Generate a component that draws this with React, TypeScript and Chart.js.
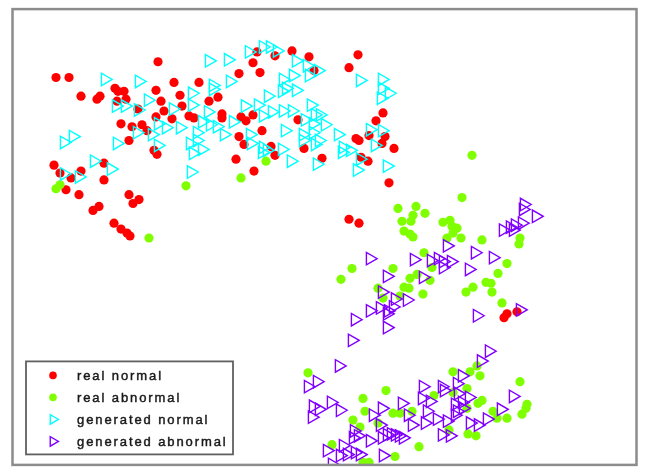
import React, { useEffect, useRef } from "react";
import { Chart, registerables } from "chart.js";

Chart.register(...registerables);

const seriesNames = ["real normal", "real abnormal", "generated normal", "generated abnormal"];

const realNormal: [number, number][] = [
  [158, 58], [56, 74], [69, 74], [81, 93], [97, 96], [100, 93], [115, 85], [118, 88], [124, 88], [126, 96],
  [117, 98], [138, 106], [156, 87], [161, 98], [164, 108], [156, 114], [174, 79], [180, 92], [182, 103], [172, 116],
  [189, 113], [194, 115], [199, 79], [209, 98], [218, 94], [222, 111], [222, 115], [121, 121], [132, 124], [142, 122],
  [147, 128], [129, 138], [154, 148], [157, 152], [54, 163], [60, 171], [71, 176], [81, 169], [104, 161], [104, 178],
  [257, 48], [275, 52], [292, 47], [309, 53], [253, 59], [239, 70], [260, 69], [314, 67], [358, 51], [349, 64],
  [241, 114], [246, 118], [253, 112], [262, 128], [298, 117], [239, 134], [244, 142], [271, 144], [275, 153], [304, 146],
  [236, 157], [254, 169], [322, 156], [383, 110], [376, 118], [356, 136], [359, 138], [369, 133], [385, 134], [382, 141],
  [394, 146], [361, 155], [368, 159], [389, 181],
  [66, 188], [79, 193], [129, 193], [139, 198], [133, 202], [93, 209], [99, 205], [114, 222], [121, 228], [127, 232], [130, 235],
  [349, 218], [359, 222], [504, 318], [507, 314], [517, 312],
];

const realAbnormal: [number, number][] = [
  [60, 183], [56, 187], [186, 184], [149, 237], [266, 159], [241, 176],
  [472, 153], [462, 196], [398, 207], [416, 205], [425, 212], [413, 214], [402, 220], [411, 220], [404, 230], [410, 233],
  [413, 236], [443, 221], [450, 219], [452, 225], [457, 227], [453, 232], [447, 237], [461, 237], [482, 239], [520, 237],
  [519, 243], [424, 252], [352, 268], [341, 279], [393, 268], [410, 278], [417, 274], [430, 280], [404, 287], [409, 288],
  [378, 288], [383, 298], [400, 296], [423, 294], [432, 267], [466, 292], [473, 287], [486, 282], [491, 283], [492, 292],
  [498, 273], [507, 263], [502, 303],
  [308, 374], [363, 400], [386, 392], [365, 413], [393, 415], [400, 415], [412, 413], [353, 422], [360, 429], [378, 425],
  [434, 397], [453, 373], [470, 373], [477, 367], [480, 377], [453, 394], [467, 390], [482, 402], [478, 405], [467, 410],
  [493, 413], [497, 420], [507, 420], [520, 383], [527, 406], [526, 410], [522, 416], [449, 432], [468, 436], [476, 438],
  [419, 449], [395, 459], [332, 447], [363, 465], [369, 465],
];

const generatedNormal: [number, number][] = [
  [209, 57], [228, 56], [105, 76], [139, 78], [213, 82], [213, 86], [230, 78], [192, 90], [148, 97], [116, 103],
  [125, 103], [138, 107], [173, 106], [192, 102], [208, 109], [158, 121], [166, 125], [180, 125], [202, 119], [210, 122],
  [217, 124], [137, 130], [152, 132], [197, 130], [224, 132], [64, 140], [73, 134], [117, 141], [158, 143], [190, 141],
  [197, 138], [202, 147], [193, 151], [94, 159], [111, 167], [64, 172], [79, 175], [191, 170],
  [249, 48], [263, 43], [270, 43], [277, 47], [296, 57], [307, 62], [318, 67], [283, 76], [293, 72], [309, 72],
  [360, 77], [382, 76], [382, 85], [389, 90], [381, 95], [268, 93], [282, 88], [286, 85], [296, 87], [245, 103],
  [258, 102], [272, 109], [283, 108], [292, 108], [311, 102], [315, 112], [320, 112], [233, 119], [263, 113], [305, 117],
  [313, 121], [325, 122], [285, 128], [303, 132], [313, 130], [338, 132], [370, 127], [382, 128], [250, 132], [251, 141],
  [263, 145], [267, 148], [282, 147], [303, 138], [315, 142], [319, 138], [343, 145], [350, 148], [342, 150], [375, 143],
  [360, 157], [291, 159], [317, 162], [357, 168], [387, 164], [262, 150],
];

const generatedAbnormal: [number, number][] = [
  [524, 203], [523, 208], [536, 215], [503, 229], [510, 226], [515, 224], [522, 222], [513, 229],
  [370, 258], [447, 245], [414, 259], [431, 260], [438, 258], [443, 261], [451, 261], [443, 267], [475, 252], [493, 257],
  [469, 269], [387, 276], [423, 277], [382, 292], [395, 299], [407, 300], [370, 311], [380, 308], [388, 311], [393, 307],
  [387, 314], [355, 320], [477, 316], [520, 310], [387, 328],
  [352, 341], [339, 367], [489, 352], [481, 362], [308, 388], [317, 383], [313, 408], [319, 411], [312, 419], [331, 404],
  [340, 412], [354, 433], [353, 440], [358, 438], [370, 443], [382, 440], [387, 437], [391, 436], [395, 437], [399, 438],
  [373, 417], [382, 410], [380, 427], [402, 405], [408, 417], [412, 427], [403, 440], [423, 388], [422, 400], [430, 403],
  [427, 413], [425, 425], [437, 421], [442, 388], [444, 392], [447, 423], [442, 437], [450, 438], [457, 385], [462, 377],
  [458, 395], [469, 399], [455, 406], [457, 413], [463, 410], [455, 417], [462, 404], [470, 425], [478, 427], [487, 421],
  [501, 411], [513, 398], [327, 453], [332, 467], [343, 448], [347, 457], [355, 455], [360, 457], [383, 458], [340, 458],
];

const xRange = [12, 636];
const yRange = [4, 467];

const toPts = (a: [number, number][]) => a.map(([x, y]) => ({ x, y }));

const framePlugin = {
  id: "frameAndLegend",
  afterDraw(chart: any) {
    const { ctx, chartArea } = chart;
    const { left, top, right, bottom } = chartArea;
    ctx.save();
    ctx.strokeStyle = "#8c8c8c";
    ctx.lineWidth = 2.5;
    ctx.strokeRect(left + 0.5, top + 0.5, right - left, bottom - top);

    // legend box
    const bx = left + 14, by = bottom - 103, bw = 207, bh = 93;
    ctx.fillStyle = "#ffffff";
    ctx.fillRect(bx, by, bw, bh);
    ctx.strokeStyle = "#606060";
    ctx.lineWidth = 1.8;
    ctx.strokeRect(bx, by, bw, bh);

    const ds = chart.data.datasets;
    ds.forEach((d: any, i: number) => {
      const cy = by + 14 + i * 22;
      const mx = bx + 27;
      ctx.beginPath();
      if (d.pointStyle === "circle") {
        ctx.fillStyle = d.backgroundColor;
        ctx.arc(mx, cy, 3.8, 0, Math.PI * 2);
        ctx.fill();
      } else {
        const r = 5.5;
        ctx.strokeStyle = d.borderColor;
        ctx.lineWidth = 1.4;
        ctx.moveTo(mx + r, cy);
        ctx.lineTo(mx - 0.5 * r, cy + 0.866 * r);
        ctx.lineTo(mx - 0.5 * r, cy - 0.866 * r);
        ctx.closePath();
        ctx.stroke();
      }
      ctx.fillStyle = "#1a1a1a";
      ctx.strokeStyle = "#1a1a1a";
      ctx.lineWidth = 0.45;
      ctx.font = "13px Arial, 'Liberation Sans', sans-serif";
      (ctx as any).letterSpacing = "1.9px";
      ctx.textBaseline = "middle";
      ctx.textAlign = "left";
      ctx.fillText(d.label, bx + 51, cy + 1);
      ctx.strokeText(d.label, bx + 51, cy + 1);
      (ctx as any).letterSpacing = "0px";
    });
    ctx.restore();
  },
};

export default function App() {
  const ref = useRef<HTMLCanvasElement | null>(null);
  useEffect(() => {
    if (!ref.current) return;
    const chart = new Chart(ref.current, {
      type: "scatter",
      data: {
        datasets: [
          {
            label: seriesNames[0],
            data: toPts(realNormal),
            pointStyle: "circle",
            pointRadius: 4.6,
            borderWidth: 0,
            backgroundColor: "#ff0000",
            borderColor: "#ff0000",
            order: 4,
          },
          {
            label: seriesNames[1],
            data: toPts(realAbnormal),
            pointStyle: "circle",
            pointRadius: 4.6,
            borderWidth: 0,
            backgroundColor: "#80ff00",
            borderColor: "#80ff00",
            order: 3,
          },
          {
            label: seriesNames[2],
            data: toPts(generatedNormal),
            pointStyle: "triangle",
            rotation: 90,
            pointRadius: 7.2,
            borderWidth: 1.4,
            backgroundColor: "rgba(0,0,0,0)",
            borderColor: "#00ffff",
            order: 2,
          },
          {
            label: seriesNames[3],
            data: toPts(generatedAbnormal),
            pointStyle: "triangle",
            rotation: 90,
            pointRadius: 7.2,
            borderWidth: 1.4,
            backgroundColor: "rgba(0,0,0,0)",
            borderColor: "#8000ff",
            order: 1,
          },
        ] as any,
      },
      options: {
        animation: false,
        responsive: false,
        events: [],
        layout: { padding: { left: 12, top: 4, right: 10, bottom: 6 } },
        scales: {
          x: { type: "linear", min: xRange[0], max: xRange[1], display: false },
          y: { type: "linear", min: yRange[0], max: yRange[1], reverse: true, display: false },
        },
        plugins: { legend: { display: false }, tooltip: { enabled: false } },
      },
      plugins: [framePlugin],
    });
    return () => chart.destroy();
  }, []);
  return (
    <div style={{ position: "fixed", left: 0, top: 0, width: 646, height: 473, background: "#fff" }}>
      <canvas ref={ref} width={646} height={473} style={{ display: "block" }} />
    </div>
  );
}
